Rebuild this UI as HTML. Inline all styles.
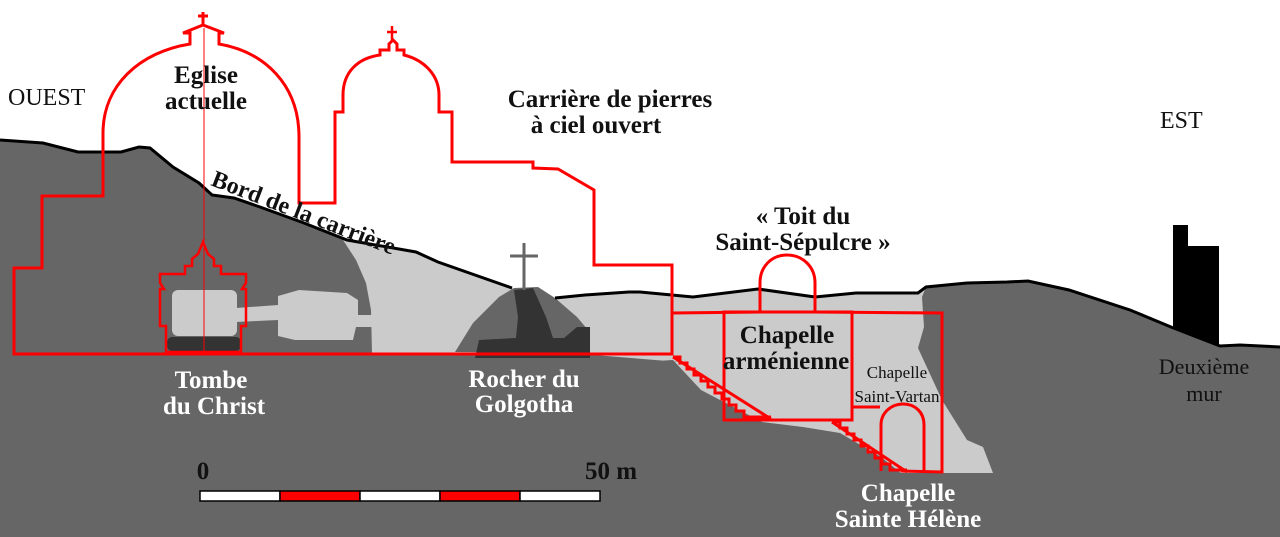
<!DOCTYPE html>
<html><head><meta charset="utf-8"><style>
html,body{margin:0;padding:0;background:#fff;}
svg{display:block;}
text{font-family:"Liberation Serif",serif;}
</style></head><body>
<svg width="1280" height="537" viewBox="0 0 1280 537" xmlns="http://www.w3.org/2000/svg">
<polygon fill="#cbcbcb" points="0,140 43,143 78,152 121,152 139,147 150,148 173,167 199,183 212,195 234,198 260,207 304,223 347,240 416,252 438,262 512,288 555,298 585,295 629,292 640,292 693,297 758,289 815,297 856,293 918,293 926,287 967,283 1007,282 1028,281 1069,290 1130,310 1171,327 1220,346 1240,345 1280,347 1280,537 0,537"/>
<polygon fill="#666" points="0,140 43,143 78,152 121,152 139,147 150,148 173,167 199,183 212,195 234,198 260,207 304,223 312,227 343,240 356,260 366,283 371,310 372,353 594,355 680,362 640,362 673,360 701,390 762,422 803,427 840,433 881,457 901,473 993,473 983,447 967,440 942,400 918,348 924,327 922,297 926,287 967,283 1007,282 1028,281 1069,290 1130,310 1171,327 1220,346 1240,345 1280,347 1280,537 0,537"/>
<rect x="172" y="290" width="65" height="46" rx="6" fill="#cbcbcb"/>
<polygon fill="#cbcbcb" points="236,308 278,305 278,296 299,290 347,293 358,300 358,315 372,315 372,327 356,327 353,340 295,340 278,336 278,320 236,322"/>
<rect x="167" y="337" width="74" height="14" rx="5" fill="#333"/>
<polygon fill="#666" points="455,352 473,323 499,297 514,288 538,287 555,298 577,317 588,330 590,353"/>
<polygon fill="#333" points="514,290 533,288 546,317 553,338 564,338 577,327 590,327 590,358 475,358 479,340 516,338 518,317"/>
<line x1="524" y1="243" x2="524" y2="290" stroke="#666" stroke-width="3"/>
<line x1="510" y1="256" x2="538" y2="256" stroke="#666" stroke-width="3"/>
<polyline fill="none" stroke="#000" stroke-width="3" points="0,140 43,143 78,152 121,152 139,147 150,148 173,167 199,183 212,195 234,198 260,207 304,223 347,240 416,252 438,262 512,288"/>
<polyline fill="none" stroke="#000" stroke-width="3" points="555,298 585,295 629,292 640,292 693,297 758,289 815,297 856,293 918,293 926,287 967,283 1007,282 1028,281 1069,290 1130,310 1171,327 1220,346 1240,345 1280,347"/>
<polygon fill="#000" points="1173,225 1188,225 1188,246 1219,246 1219,345 1173,328"/>
<g fill="none" stroke="#f00" stroke-width="3" stroke-linejoin="miter">
<path d="M14,354 L14,268 L42,268 L42,196 L103,196 L103,133 C103,85 140,52 190,44 L190,33 L183,33 L203,25 L224,33 L219,33 L219,44 C265,52 299,85 299,137 L299,203 L335,203 L335,112 L343,112 L343,95 C343,72 358,58 380,55 L380,50 L389,50 L389,44 L393,40 L397,44 L397,50 L404,50 L404,55 C424,60 439,75 439,95 L439,112 L452,112 L452,162 L533,162 L533,168 L558,169 L594,190 L594,265 L672,265 L672,354 Z"/>
<line x1="203" y1="12" x2="203" y2="25"/>
<line x1="198" y1="16" x2="208" y2="16"/>
<line x1="392" y1="26" x2="392" y2="40" stroke-width="2.5"/>
<line x1="387" y1="32" x2="397" y2="32" stroke-width="2.5"/>
<path d="M166,352 L166,326 L160,326 L160,289 L164,289 L160,283 L160,274 L185,274 L185,266 L192,266 L192,259 L198,254 L203,242 L208,254 L214,259 L214,266 L221,266 L221,274 L246,274 L246,283 L242,289 L246,289 L246,326 L241,326 L241,352 Z" stroke-width="2.5"/>
<path d="M672,313 L760,312 L760,283 C760,266 772,255 787,255 C802,255 815,266 815,283 L815,312 L942,313 L942,472 L901,471"/>
<rect x="724" y="312" width="128" height="108"/>
<path d="M852,407 L880,407"/>
<path d="M881,471 L881,425 C881,412 892,404 903,404 C915,404 924,412 924,425 L924,471"/>
</g>
<line x1="204" y1="28" x2="204" y2="354" stroke="#f00" stroke-width="1"/>
<g fill="none" stroke="#f00" stroke-width="3">
<path d="M673,357 L680,357 L680,363 L687,363 L687,369 L694,369 L694,375 L701,375 L701,381 L708,381 L708,387 L715,387 L715,393 L722,393 L722,399 L729,399 L729,405 L736,405 L736,411 L744,411 L744,417 L771,417"/>
<path d="M673,357 L771,419"/>
<path d="M832,422 L840,422 L840,428 L847,428 L847,434 L854,434 L854,440 L861,440 L861,446 L868,446 L868,452 L875,452 L875,458 L882,458 L882,464 L890,464 L890,470 L907,470"/>
<path d="M832,422 L907,472"/>
</g>
<g stroke="#000" stroke-width="1.5">
<rect x="200" y="491" width="80" height="10" fill="#fff"/>
<rect x="280" y="491" width="80" height="10" fill="#f00"/>
<rect x="360" y="491" width="80" height="10" fill="#fff"/>
<rect x="440" y="491" width="80" height="10" fill="#f00"/>
<rect x="520" y="491" width="80" height="10" fill="#fff"/>
</g>
<g font-size="25" font-weight="bold" text-anchor="middle" fill="#111">
<text x="206" y="83">Eglise</text>
<text x="206" y="109">actuelle</text>
<text x="610" y="107">Carrière de pierres</text>
<text x="596" y="133">à ciel ouvert</text>
<text x="803" y="224">« Toit du</text>
<text x="803" y="250">Saint-Sépulcre »</text>
<text x="787" y="343">Chapelle</text>
<text x="786" y="369">arménienne</text>
<text x="203" y="479">0</text>
<text x="611" y="479">50 m</text>
</g>
<g font-size="17" text-anchor="middle" fill="#111">
<text x="897" y="378">Chapelle</text>
<text x="897" y="402">Saint-Vartan</text>
</g>
<text transform="translate(210,185) rotate(21)" font-size="24" font-weight="bold" fill="#111">Bord de la carrière</text>
<g font-size="24" fill="#111">
<text x="8" y="105">OUEST</text>
<text x="1160" y="128">EST</text>
</g>
<g font-size="22" fill="#111" text-anchor="middle">
<text x="1204" y="374">Deuxième</text>
<text x="1204" y="401">mur</text>
</g>
<g font-size="25" font-weight="bold" text-anchor="middle" fill="#fff">
<text x="211" y="388">Tombe</text>
<text x="214" y="414">du Christ</text>
<text x="524" y="387">Rocher du</text>
<text x="524" y="412">Golgotha</text>
<text x="908" y="501">Chapelle</text>
<text x="908" y="527">Sainte Hélène</text>
</g>
</svg>
</body></html>
